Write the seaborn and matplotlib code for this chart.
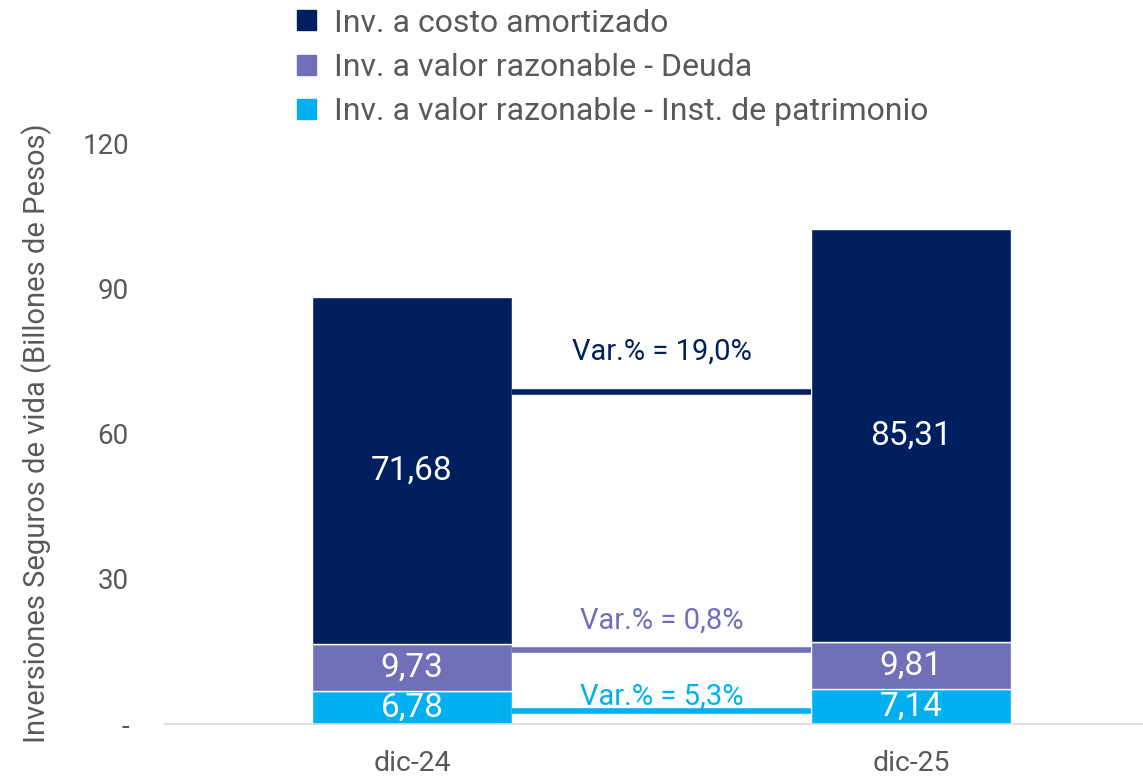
import matplotlib
matplotlib.use("Agg")
import matplotlib.pyplot as plt
import seaborn as sns
import pandas as pd
from matplotlib.patches import Patch

categories = ["dic-24", "dic-25"]
costo = [71.68, 85.31]
deuda = [9.73, 9.81]
patrimonio = [6.78, 7.14]
series_names = ["Inv. a costo amortizado", "Inv. a valor razonable - Deuda",
                "Inv. a valor razonable - Inst. de patrimonio"]
var_labels = ["Var.% = 19,0%", "Var.% = 0,8%", "Var.% = 5,3%"]
var_line_y = [68.6, 15.3, 2.7]
var_text_y = [76.9, 21.3, 5.6]
yticks = [0, 30, 60, 90, 120]
ytick_labels = ["-", "30", "60", "90", "120"]

c_navy = "#001F5F"
c_purple = "#7070B8"
c_cyan = "#00B0F0"
c_text = "#595959"

sns.set_style("white")
plt.rcParams["font.family"] = ["Roboto", "DejaVu Sans"]

fig = plt.figure(figsize=(11.43, 7.76), dpi=100)
ax = fig.add_axes([0.1444, 0.067, 0.8556, 0.7487])

df = pd.DataFrame({"cat": categories, "costo": costo, "deuda": deuda, "pat": patrimonio})
df["b2"] = df["pat"]
df["b3"] = df["pat"] + df["deuda"]

sns.barplot(data=df, x="cat", y="pat", color=c_cyan, width=0.4, saturation=1, ax=ax)
sns.barplot(data=df, x="cat", y="deuda", bottom=df["b2"], color=c_purple, width=0.4,
            saturation=1, ax=ax)
sns.barplot(data=df, x="cat", y="costo", bottom=df["b3"], color=c_navy, width=0.4,
            saturation=1, ax=ax)

for i in range(len(categories)):
    ax.text(i, patrimonio[i] / 2, f"{patrimonio[i]:.2f}".replace(".", ","), ha="center",
            va="center", color="white", fontsize=24)
    ax.text(i, patrimonio[i] + deuda[i] / 2, f"{deuda[i]:.2f}".replace(".", ","),
            ha="center", va="center", color="white", fontsize=24)
    ax.text(i, patrimonio[i] + deuda[i] + costo[i] / 2, f"{costo[i]:.2f}".replace(".", ","),
            ha="center", va="center", color="white", fontsize=24)

var_colors = [c_navy, c_purple, c_cyan]
for lbl, ly, ty, col in zip(var_labels, var_line_y, var_text_y, var_colors):
    ax.hlines(ly, 0.2, 0.8, color=col, linewidth=4)
    ax.text(0.5, ty, lbl, ha="center", va="center", color=col, fontsize=21)

ax.set_xlim(-0.495, 1.465)
ax.set_ylim(0, 120)
ax.set_yticks(yticks)
ax.set_yticklabels(ytick_labels)
ax.set_xlabel("")
ax.set_ylabel("Inversiones Seguros de vida (Billones de Pesos)", fontsize=21, color=c_text,
              labelpad=22)
ax.tick_params(axis="y", labelsize=20, colors=c_text, length=0, pad=26)
ax.tick_params(axis="x", labelsize=20.5, colors=c_text, length=0, pad=19)
for s in ["top", "right", "left"]:
    ax.spines[s].set_visible(False)
ax.spines["bottom"].set_color("#D9D9D9")
ax.spines["bottom"].set_linewidth(1.2)

handles = [Patch(color=c_navy), Patch(color=c_purple), Patch(color=c_cyan)]
fig.legend(handles, series_names, loc="upper left", bbox_to_anchor=(0.2345, 1.026),
           frameon=False, fontsize=23, labelcolor=c_text, handlelength=0.6,
           handleheight=0.6, handletextpad=0.55, labelspacing=0.48)

fig.savefig("out.png", dpi=100)
